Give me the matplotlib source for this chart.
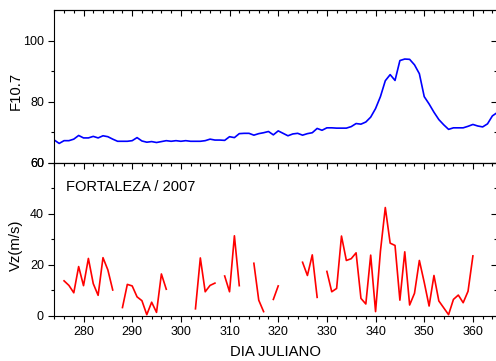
import matplotlib
matplotlib.use("Agg")
import matplotlib.pyplot as plt
import numpy as np

plt.rcParams['font.family'] = ['Liberation Sans', 'DejaVu Sans']

# fluxo solar F10.7, dias 274 a 365
dias_f107 = np.arange(274, 366)
f107 = [67.5, 66.4, 67.3, 67.3, 67.8, 69.0, 68.2, 68.2, 68.7, 68.2,
        68.9, 68.6, 67.8, 67.1, 67.1, 67.1, 67.3, 68.3, 67.2, 66.8,
        67.0, 66.7, 67.0, 67.3, 67.1, 67.3, 67.1, 67.3, 67.1, 67.1,
        67.1, 67.3, 67.8, 67.5, 67.5, 67.4, 68.6, 68.3, 69.6, 69.7,
        69.7, 69.1, 69.6, 69.9, 70.3, 69.2, 70.5, 69.7, 68.9, 69.5,
        69.7, 69.1, 69.6, 69.9, 71.3, 70.7, 71.5, 71.5, 71.4, 71.4,
        71.4, 71.9, 72.9, 72.7, 73.4, 75.0, 77.8, 81.7, 86.9, 88.9,
        87.0, 93.5, 94.0, 93.9, 92.1, 89.2, 81.7, 79.3, 76.6, 74.2,
        72.5, 71.0, 71.5, 71.5, 71.5, 72.0, 72.6, 72.1, 71.8, 72.8,
        75.4, 76.5]

# deriva vertical Vz (m/s) em Fortaleza; nan = dia sem dado
dias_vz = np.arange(276, 361)
vz = [13.7, 11.9, 9.0, 19.3, 11.8, 22.5, 12.6, 8.0, 22.8, 18.0, 10.1,
      np.nan,
      3.2, 12.3, 11.7, 7.4, 5.9, 0.4, 5.3, 1.3, 16.4, 10.4,
      np.nan, np.nan, np.nan, np.nan, np.nan,
      2.7, 22.7, 9.4, 11.9, 12.8,
      np.nan,
      15.6, 9.4, 31.4, 11.8,
      np.nan, np.nan,
      20.6, 6.1, 1.6,
      np.nan,
      6.4, 11.7,
      np.nan, np.nan, np.nan, np.nan,
      21.0, 15.8, 23.9, 7.2,
      np.nan,
      17.4, 9.4, 10.7, 31.3, 21.7, 22.4, 24.7, 6.8, 4.6, 23.8,
      1.6, 25.3, 42.5, 28.5, 27.6, 6.1, 25.1, 4.2, 8.8, 21.7,
      13.1, 3.8, 15.8, 5.8, 3.1, 0.4, 6.4, 8.1, 5.1, 9.6, 23.5]

fig = plt.figure(figsize=(4.96, 3.61), dpi=100)
esq, larg = 0.1095, 0.893
ax1 = fig.add_axes([esq, 0.5485, larg, 0.4235])
ax2 = fig.add_axes([esq, 0.1255, larg, 0.423])

ax1.plot(dias_f107, f107, color='#0000ff', lw=1.2)
ax2.plot(dias_vz, vz, color='#ff0000', lw=1.2)

ax1.set_ylim(60, 110)
ax1.set_yticks([60, 80, 100])
ax1.set_yticks([70, 90], minor=True)
ax2.set_ylim(0, 60)
ax2.set_yticks([0, 20, 40, 60])
ax2.set_yticks([10, 30, 50], minor=True)

for ax in (ax1, ax2):
    ax.set_xlim(274, 365)
    ax.set_xticks(np.arange(280, 361, 10))
    ax.set_xticks(np.arange(274, 366, 2), minor=True)
    ax.tick_params(axis='both', which='major', direction='out', length=4,
                   width=0.8, labelsize=9, top=False, right=False)
    ax.tick_params(axis='both', which='minor', direction='out', length=2.5,
                   width=0.8, top=False, right=False)
    for s in ax.spines.values():
        s.set_linewidth(0.8)
    # marcas internas no topo e na direita
    sx = ax.secondary_xaxis('top')
    sx.set_xticks(np.arange(280, 361, 10))
    sx.set_xticks(np.arange(274, 366, 2), minor=True)
    sx.tick_params(which='major', direction='in', length=4, width=0.8, labeltop=False)
    sx.tick_params(which='minor', direction='in', length=2.5, width=0.8)
    sy = ax.secondary_yaxis('right')
    sy.set_yticks(ax.get_yticks())
    sy.set_yticks(ax.get_yticks(minor=True), minor=True)
    sy.tick_params(which='major', direction='in', length=4, width=0.8, labelright=False)
    sy.tick_params(which='minor', direction='in', length=2.5, width=0.8)

ax1.tick_params(axis='x', labelbottom=False)
ax1.set_ylabel('F10.7', fontsize=10.7)
ax2.set_ylabel('Vz(m/s)', fontsize=10.7)
ax1.yaxis.set_label_coords(-0.071, 0.47)
ax2.yaxis.set_label_coords(-0.071, 0.46)
ax2.set_xlabel('DIA JULIANO', fontsize=10.7, labelpad=5)
ax2.text(0.026, 0.845, 'FORTALEZA / 2007', transform=ax2.transAxes,
         fontsize=10.5, va='center', ha='left')

fig.savefig('out.png', dpi=100)
